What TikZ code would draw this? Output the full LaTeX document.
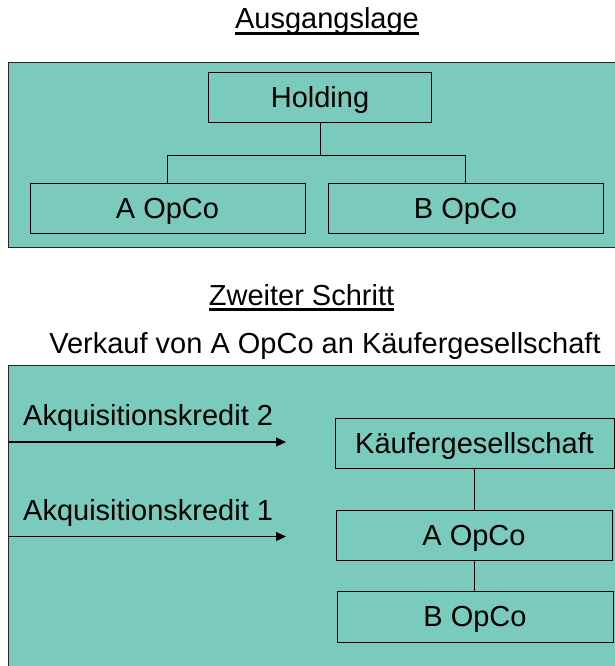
\documentclass[tikz,border=0pt]{standalone}
\usepackage{fontspec}
\setmainfont{Liberation Sans}
\usetikzlibrary{arrows.meta}
\definecolor{panelfill}{RGB}{122,203,189}
\tikzset{
  panel/.style={fill=panelfill, draw=black!85, line width=1.4pt},
  orgbox/.style={draw=black, line width=0.9pt, inner sep=0pt, text height=20.8pt, text depth=0pt, font=\fontsize{29}{34}\selectfont},
  lbl/.style={inner sep=0pt, anchor=base west, font=\fontsize{29}{34}\selectfont},
  ttl/.style={inner sep=0pt, anchor=base, font=\fontsize{29}{34}\selectfont},
  uline/.style={line width=2.2pt},
  conn/.style={draw=black, line width=0.9pt},
  credit/.style={draw=black, line width=1.1pt, -{Triangle[length=10pt,width=9pt]}}
}
\begin{document}
\begin{tikzpicture}[x=1pt,y=-1pt]
\useasboundingbox (0,0) rectangle (615,666);
\clip (0,0) rectangle (615,666);
\fill[white] (0,0) rectangle (615,666);

% titles
\node[ttl] (t1) at (327,29) {Ausgangslage};
\draw[uline] ([yshift=-4.5pt]t1.base west) -- ([yshift=-4.5pt]t1.base east);
\node[ttl] (t2) at (301.5,305) {Zweiter Schritt};
\draw[uline] ([yshift=-4.5pt]t2.base west) -- ([yshift=-4.5pt]t2.base east);
\node[ttl] (t3) at (325,353) {Verkauf von A OpCo an K\"aufergesellschaft};

% top panel
\draw[panel] (8.6,62.5) rectangle (640,247.5);
\node[orgbox, minimum width=223pt, minimum height=50pt] (hold) at (320,97) {Holding};
\node[orgbox, minimum width=275pt, minimum height=50pt] (aop) at (167.5,208) {A OpCo};
\node[orgbox, minimum width=275pt, minimum height=50pt] (bop) at (465.5,208) {B OpCo};
\coordinate (jn) at (320,155);
\draw[conn] (hold.south) -- (jn);
\draw[conn] (aop.north) |- (jn);
\draw[conn] (bop.north) |- (jn);

% bottom panel
\draw[panel] (8.6,365.5) rectangle (640,700);
\node[orgbox, minimum width=279pt, minimum height=50pt] (kg) at (474.5,443) {K\"aufergesellschaft};
\node[orgbox, minimum width=276pt, minimum height=50pt] (aop2) at (474,535) {A OpCo};
\node[orgbox, minimum width=276pt, minimum height=51pt] (bop2) at (475,616.5) {B OpCo};
\draw[conn] (kg.south) -- (kg.south |- aop2.north);
\draw[conn] (aop2.south) -- (aop2.south |- bop2.north);

\node[lbl] (k2) at (23,425) {Akquisitionskredit 2};
\node[lbl] (k1) at (23,520) {Akquisitionskredit 1};
\coordinate (a2s) at (8.6,442);
\coordinate (a2e) at (286,442);
\coordinate (a1s) at (8.6,536.5);
\coordinate (a1e) at (286,536.5);
\draw[credit] (a2s) -- (a2e);
\draw[credit] (a1s) -- (a1e);
\end{tikzpicture}
\end{document}
